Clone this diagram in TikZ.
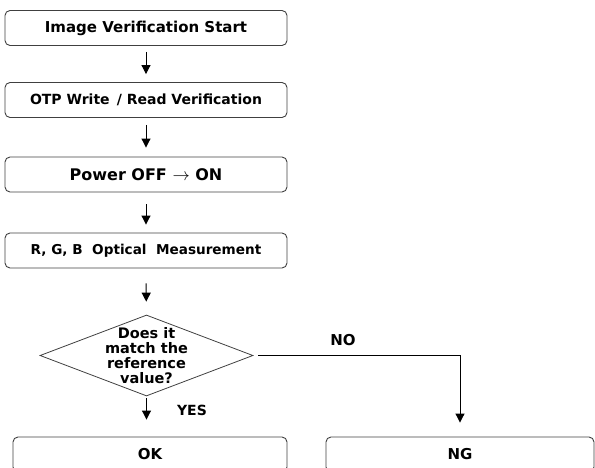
\documentclass[tikz,border=0pt]{standalone}
\usepackage{fontspec}
\setmainfont{DejaVu Sans}
\usetikzlibrary{arrows.meta,shapes.geometric}

\begin{document}
\begin{tikzpicture}[x=1pt,y=-1pt,font=\bfseries\fontsize{14}{15}\selectfont,
  stepbox/.style={draw=black!75,line width=0.9pt,rounded corners=5pt,
    minimum width=282pt,minimum height=35pt,inner sep=0pt},
  decision/.style={draw=black!75,line width=0.8pt,diamond,
    minimum width=213pt,minimum height=81pt,inner sep=0pt},
  flow/.style={-{Triangle[width=9pt,length=9pt]},line width=1pt,
    shorten <=7pt,shorten >=8pt}]
 \useasboundingbox (0,0) rectangle (595,468);
 \clip (0,0) rectangle (595,468);
 \node[stepbox,font=\bfseries\fontsize{15}{15}\selectfont] (start) at (146,28) {Image Verification Start};
 \node[stepbox] (otp) at (146,100) {OTP Write\ \,/\ Read Verification};
 \node[stepbox,font=\bfseries\fontsize{16}{15}\selectfont] (power) at (146,174.5) {Power OFF $\rightarrow$ ON};
 \node[stepbox,font=\bfseries\fontsize{13.6}{15}\selectfont] (rgb) at (146,250.5) {R, G, B\ \ Optical\ \ Measurement};
 \node[decision] (chk) at (146.5,355.5) {};
 \node[align=center,font=\bfseries\fontsize{14.5}{15}\selectfont] (chktxt) at (chk) {Does it\\match the\\reference\\value?};
 \node[stepbox,minimum width=274pt,font=\bfseries\fontsize{15}{15}\selectfont] (ok) at (150,454.5) {OK};
 \node[stepbox,minimum width=268pt,font=\bfseries\fontsize{15}{15}\selectfont] (ng) at (460,454.5) {NG};
 \node[font=\bfseries\fontsize{15}{15}\selectfont] (no) at (343,340) {NO};
 \node (yes) at (192,410) {YES};
 % main flow
 \draw[flow,shorten <=6pt] (start) -- (otp);
 \draw[flow,shorten >=9pt] (otp) -- (power);
 \draw[flow,shorten <=12pt] (power) -- (rgb);
 \draw[flow,shorten <=15pt,shorten >=13pt] (rgb) -- (chk);
 \draw[flow,shorten <=2pt,shorten >=17pt] (chk.south) -- (chk.south |- ok.north);
 \draw[flow,shorten <=5pt,shorten >=14pt] (chk.east) -| (ng);
\end{tikzpicture}
\end{document}
